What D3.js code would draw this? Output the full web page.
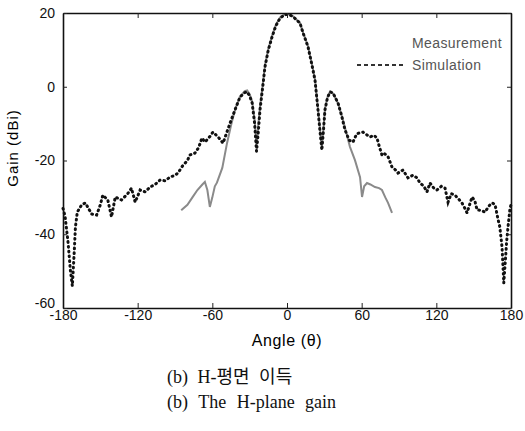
<!doctype html>
<html lang="ko">
<head>
<meta charset="utf-8">
<title>H-plane gain</title>
<script src="https://cdn.jsdelivr.net/npm/d3@7"></script>
<style>
  body { margin: 0; background: #fff; }
  .tick-label { font: 14px "Liberation Sans", Arial, sans-serif; fill: #111; }
  .cap { font-family: "Liberation Serif", "Noto Sans CJK KR", serif; font-size: 18px; fill: #111; }
</style>
</head>
<body>
<div id="viz"></div>
<script>
// simulation (dotted black), full sweep
var simAngle = [-180, -178.4, -176, -174, -172.5, -171, -170, -168.5, -165, -162, -157, -153, -150, -148, -144, -141, -138, -133, -128, -125, -122, -118, -114, -110, -106, -102, -98, -94, -90, -87.6, -84, -80, -78, -74, -71, -68.3, -66, -64.3, -62, -59.5, -55.4, -51.4, -48, -45.8, -41.8, -37.8, -34, -32, -30, -28, -26, -24.5, -23, -21.7, -19.5, -17.7, -15, -12, -9, -5.6, -2, 0, 2, 5, 8, 10.4, 13, 16.9, 20, 22.5, 24.9, 26.5, 28, 29.5, 30.5, 32.5, 34.6, 37, 41, 44, 46.6, 50, 53, 56, 59, 61, 64, 66.7, 70, 72.3, 74, 76.3, 78, 81.2, 84.4, 87, 89.2, 93.2, 97.2, 101, 104.5, 106.9, 110, 112.5, 114.9, 118, 120.5, 124, 127, 129.4, 132, 135, 138, 140.6, 143, 144.7, 148.7, 151, 152.7, 156, 159.1, 161, 163.1, 165, 167.2, 169.6, 171, 172.8, 173.6, 174.2, 175.5, 176.5, 177.6, 179.2, 180];
var simGain = [-33, -35, -42, -50, -54, -45, -38, -34, -32, -31.5, -34.5, -34.8, -32, -29.4, -30.7, -35.3, -29.9, -30.7, -29, -27.5, -31.3, -28, -28.5, -27.2, -26.5, -25.3, -25.5, -24.5, -24, -23.4, -21.5, -20, -18.5, -18, -16.5, -13.9, -15, -14.4, -13.5, -12.3, -13.6, -15.3, -12, -9.9, -6.3, -2.8, -1.6, -1.4, -2.5, -4.4, -10, -17.5, -12, -6.3, 0, 5.4, 10, 13.5, 16.5, 18.6, 19.5, 19.6, 19.5, 19, 18, 17.3, 14.5, 10.8, 6, 1.8, -6.3, -12, -17.2, -11, -6.3, -3, -1.4, -1.7, -4.4, -8, -11.7, -14.5, -15, -12.8, -12.4, -12.3, -13, -13.6, -13.2, -13.9, -16, -18.5, -18, -19, -21.8, -22.5, -23.4, -22.6, -24.7, -24, -24.7, -26.1, -27, -28.5, -26.1, -27.5, -28, -27, -27.5, -31.3, -29, -29.4, -30.5, -31.5, -33, -34.2, -29.9, -31, -33.4, -33.5, -34, -33, -32, -31.5, -32, -36, -38, -43.5, -49, -53.2, -47, -42, -38, -33, -32];

// measurement (grey solid), -85..85 only
var measAngle = [-85, -80, -76, -72, -68, -66, -64, -62, -60, -58, -56.3, -52, -48.2, -45, -41.8, -38, -34, -32, -30, -28, -26, -24.5, -23, -21.7, -19.5, -17.7, -15, -12, -9, -5.6, -2, 0, 2, 5, 8, 10.4, 13, 16.9, 20, 22.5, 24.9, 26.5, 28, 29.5, 30.5, 32.5, 34.6, 37, 41, 45, 50.6, 54.6, 58.7, 60.3, 62, 64.3, 67, 70.7, 74, 76.3, 79, 81.2, 84.4];
var measGain = [-33.5, -32, -30, -28, -26.5, -25.8, -28, -32.6, -30, -27, -26, -22, -15.3, -10.5, -6.3, -2.8, -1.2, -1, -2, -4, -9, -16, -10, -5.5, 0.5, 5.8, 10.3, 13.8, 16.8, 18.8, 19.6, 19.7, 19.6, 19.1, 18.1, 17.4, 14.6, 11, 6.2, 2, -6, -11.5, -16.5, -10.5, -6, -2.8, -1.3, -1.8, -4.5, -9, -16.3, -19.9, -24.5, -29.9, -27, -26.1, -26.5, -27.2, -27.5, -28, -30, -31.5, -34.2];

var xTicks = [-180, -120, -60, 0, 60, 120, 180];
var yTicks = [20, 0, -20, -40, -60];
var legendNames = ["Measurement", "Simulation"];

var w = 525, h = 431;
var margin = {top: 13, right: 14, bottom: 123, left: 63};
var width = w - margin.left - margin.right,
    height = h - margin.top - margin.bottom;

var xScale = d3.scaleLinear().domain([-180, 180]).range([0, width]);
var yScale = d3.scaleLinear().domain([-60, 20]).range([height, 0]);

var svg = d3.select("#viz").append("svg")
    .attr("width", w)
    .attr("height", h);

var g = svg.append("g")
    .attr("transform", "translate(" + margin.left + "," + margin.top + ")");

function toPoints(a, v) {
    return a.map((d, i) => [d, v[i]]);
}

var line = d3.line()
    .x(d => xScale(d[0]))
    .y(d => yScale(d[1]));

// measurement first, simulation dots on top
g.append("path")
    .datum(toPoints(measAngle, measGain))
    .attr("fill", "none")
    .attr("stroke", "#8a8a8a")
    .attr("stroke-width", 2)
    .attr("d", line);

g.append("path")
    .datum(toPoints(simAngle, simGain))
    .attr("fill", "none")
    .attr("stroke", "#111")
    .attr("stroke-width", 3)
    .attr("stroke-linecap", "round")
    .attr("stroke-dasharray", "0.8,4")
    .attr("d", line);

// inward ticks on all four sides, labels only bottom/left (plain hyphen minus like the original)
var plain = d => String(d);
var axBottom = d3.axisBottom(xScale).tickValues(xTicks).tickSizeInner(-5).tickSizeOuter(0).tickPadding(2).tickFormat(plain);
var axTop = d3.axisTop(xScale).tickValues(xTicks).tickSizeInner(-5).tickSizeOuter(0).tickFormat("");
var axLeft = d3.axisLeft(yScale).tickValues(yTicks).tickSizeInner(-4).tickSizeOuter(0).tickPadding(8).tickFormat(plain);
var axRight = d3.axisRight(yScale).tickValues(yTicks).tickSizeInner(-4).tickSizeOuter(0).tickFormat("");

var gx = g.append("g").attr("transform", "translate(0," + height + ")").call(axBottom);
g.append("g").call(axTop);
var gy = g.append("g").call(axLeft);
g.append("g").attr("transform", "translate(" + width + ",0)").call(axRight);

g.selectAll(".domain").attr("stroke", "#111").attr("stroke-width", 1.6);
g.selectAll(".tick line").attr("stroke", "#222");
gx.selectAll("text").attr("class", "tick-label");
gy.selectAll("text").attr("class", "tick-label")
    .attr("dy", d => d === -60 ? "-0.05em" : "0.32em");

// legend, left aligned text with a dotted sample in front of Simulation
var leg = g.append("g").attr("transform", "translate(349,30)");
leg.selectAll("text")
    .data(legendNames)
    .enter()
    .append("text")
    .attr("x", 0)
    .attr("y", (d, i) => i * 22)
    .attr("dy", "0.35em")
    .style("font", "14px 'Liberation Sans', Arial, sans-serif")
    .style("letter-spacing", "0.4px")
    .style("fill", "#555")
    .text(d => d);
leg.append("line")
    .attr("x1", -55).attr("x2", -9)
    .attr("y1", 22).attr("y2", 22)
    .attr("stroke", "#333")
    .attr("stroke-width", 2)
    .attr("stroke-dasharray", "4,3");

// axis titles
svg.append("text")
    .attr("transform", "translate(18," + (margin.top + 135) + ") rotate(-90)")
    .attr("text-anchor", "middle")
    .style("font", "15px 'Liberation Sans', Arial, sans-serif")
    .style("letter-spacing", "1px")
    .text("Gain (dBi)");

svg.append("text")
    .attr("x", margin.left + xScale(0))
    .attr("y", 346)
    .attr("text-anchor", "middle")
    .style("font", "16px 'Liberation Sans', Arial, sans-serif")
    .style("letter-spacing", "0.6px")
    .text("Angle (\u03b8)");

// captions
svg.append("text")
    .attr("class", "cap")
    .attr("x", 167)
    .attr("y", 383)
    .style("word-spacing", "5px")
    .text("(b) H-평면 이득");

svg.append("text")
    .attr("class", "cap")
    .attr("x", 167)
    .attr("y", 408)
    .style("word-spacing", "6px")
    .text("(b) The H-plane gain");
</script>
</body>
</html>
